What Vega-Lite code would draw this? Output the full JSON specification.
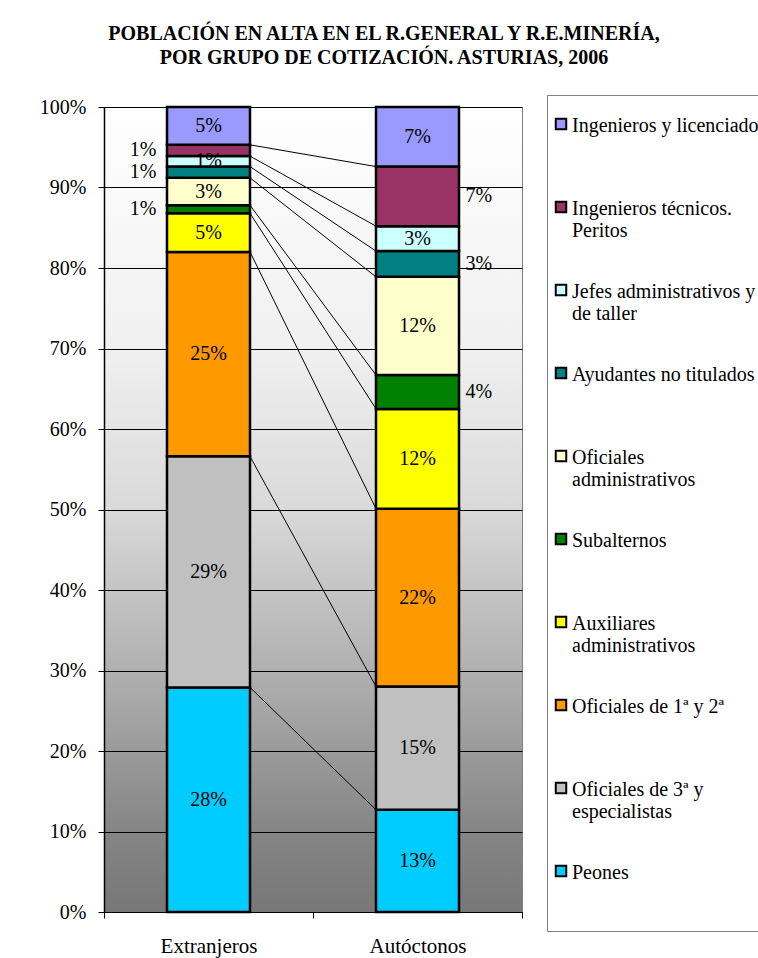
{
  "$schema": "https://vega.github.io/schema/vega-lite/v6.json",
  "autosize": "none",
  "width": 418,
  "height": 805,
  "padding": {"left": 104, "top": 107, "right": 236, "bottom": 46},
  "background": "white",
  "title": {
    "text": ["POBLACIÓN EN ALTA EN EL R.GENERAL Y R.E.MINERÍA,", "POR GRUPO DE COTIZACIÓN. ASTURIAS, 2006"],
    "font": "Liberation Serif",
    "fontSize": 20,
    "fontWeight": "bold",
    "lineHeight": 24,
    "color": "black",
    "anchor": "middle",
    "frame": "group",
    "dx": 71,
    "offset": 27
  },
  "data": {
    "values": [
      {"grupo": "Extranjeros", "categoria": "Peones", "orden": 1, "valor": 0.279},
      {"grupo": "Extranjeros", "categoria": "Oficiales de 3ª y especialistas", "orden": 2, "valor": 0.287},
      {"grupo": "Extranjeros", "categoria": "Oficiales de 1ª y 2ª", "orden": 3, "valor": 0.254},
      {"grupo": "Extranjeros", "categoria": "Auxiliares administrativos", "orden": 4, "valor": 0.048},
      {"grupo": "Extranjeros", "categoria": "Subalternos", "orden": 5, "valor": 0.010},
      {"grupo": "Extranjeros", "categoria": "Oficiales administrativos", "orden": 6, "valor": 0.034},
      {"grupo": "Extranjeros", "categoria": "Ayudantes no titulados", "orden": 7, "valor": 0.014},
      {"grupo": "Extranjeros", "categoria": "Jefes administrativos y de taller", "orden": 8, "valor": 0.013},
      {"grupo": "Extranjeros", "categoria": "Ingenieros técnicos. Peritos", "orden": 9, "valor": 0.014},
      {"grupo": "Extranjeros", "categoria": "Ingenieros y licenciados", "orden": 10, "valor": 0.047},
      {"grupo": "Autóctonos", "categoria": "Peones", "orden": 1, "valor": 0.127},
      {"grupo": "Autóctonos", "categoria": "Oficiales de 3ª y especialistas", "orden": 2, "valor": 0.153},
      {"grupo": "Autóctonos", "categoria": "Oficiales de 1ª y 2ª", "orden": 3, "valor": 0.221},
      {"grupo": "Autóctonos", "categoria": "Auxiliares administrativos", "orden": 4, "valor": 0.124},
      {"grupo": "Autóctonos", "categoria": "Subalternos", "orden": 5, "valor": 0.042},
      {"grupo": "Autóctonos", "categoria": "Oficiales administrativos", "orden": 6, "valor": 0.122},
      {"grupo": "Autóctonos", "categoria": "Ayudantes no titulados", "orden": 7, "valor": 0.032},
      {"grupo": "Autóctonos", "categoria": "Jefes administrativos y de taller", "orden": 8, "valor": 0.031},
      {"grupo": "Autóctonos", "categoria": "Ingenieros técnicos. Peritos", "orden": 9, "valor": 0.074},
      {"grupo": "Autóctonos", "categoria": "Ingenieros y licenciados", "orden": 10, "valor": 0.074}
    ]
  },
  "config": {
    "font": "Liberation Serif",
    "view": {
      "fill": {
        "gradient": "linear",
        "x1": 0, "y1": 0, "x2": 0, "y2": 1,
        "stops": [
          {"offset": 0, "color": "#ffffff"},
          {"offset": 0.3, "color": "#f0f0f0"},
          {"offset": 0.5, "color": "#d9d9d9"},
          {"offset": 0.7, "color": "#b0b0b0"},
          {"offset": 0.9, "color": "#858585"},
          {"offset": 1, "color": "#777777"}
        ]
      },
      "stroke": "#808080",
      "strokeWidth": 1
    },
    "legend": {
      "labelFont": "Liberation Serif",
      "titleFont": "Liberation Serif"
    },
    "axisY": {
      "domainColor": "black",
      "domainWidth": 1.5,
      "tickColor": "black",
      "tickSize": 6,
      "gridColor": "black",
      "gridWidth": 1,
      "gridOpacity": 1,
      "labelPadding": 12,
      "labelFontSize": 20,
      "labelColor": "black",
      "labelFont": "Liberation Serif"
    },
    "axisX": {
      "domainColor": "black",
      "tickColor": "black",
      "tickSize": 6,
      "labelFontSize": 21,
      "labelPadding": 17,
      "labelColor": "black",
      "labelAngle": 0,
      "labelFont": "Liberation Serif",
      "grid": false,
      "tickBand": "extent"
    }
  },
  "encoding": {
    "x": {
      "field": "grupo",
      "type": "nominal",
      "title": null,
      "scale": {"domain": ["Extranjeros", "Autóctonos"], "paddingInner": 0, "paddingOuter": 0}
    }
  },
  "layer": [
    {
      "transform": [
        {"stack": "valor", "groupby": ["grupo"], "sort": [{"field": "orden", "order": "ascending"}], "as": ["v0", "v1"]},
        {"pivot": "grupo", "value": "v1", "groupby": ["categoria"]},
        {"filter": "datum.categoria != 'Ingenieros y licenciados'"}
      ],
      "mark": {"type": "rule", "color": "black", "strokeWidth": 1, "xOffset": 41.5, "x2Offset": -41.5},
      "encoding": {
        "x": {"datum": "Extranjeros", "type": "nominal"},
        "x2": {"datum": "Autóctonos"},
        "y": {"field": "Extranjeros", "type": "quantitative"},
        "y2": {"field": "Autóctonos"}
      }
    },
    {
      "mark": {"type": "bar", "size": 83, "stroke": "black", "strokeWidth": 2.5},
      "encoding": {
        "y": {
          "field": "valor",
          "type": "quantitative",
          "stack": "zero",
          "title": null,
          "scale": {"domain": [0, 1], "nice": false},
          "axis": {"format": ".0%", "values": [0, 0.1, 0.2, 0.3, 0.4, 0.5, 0.6, 0.7, 0.8, 0.9, 1]}
        },
        "order": {"field": "orden", "type": "quantitative"},
        "color": {
          "field": "categoria",
          "type": "nominal",
          "scale": {
            "domain": ["Ingenieros y licenciados", "Ingenieros técnicos. Peritos", "Jefes administrativos y de taller", "Ayudantes no titulados", "Oficiales administrativos", "Subalternos", "Auxiliares administrativos", "Oficiales de 1ª y 2ª", "Oficiales de 3ª y especialistas", "Peones"],
            "range": ["#9999FF", "#993366", "#CCFFFF", "#008080", "#FFFFCC", "#008000", "#FFFF00", "#FF9900", "#C0C0C0", "#00CCFF"]
          },
          "legend": {
            "orient": "none",
            "legendX": 443,
            "legendY": -12,
            "title": " ",
            "titleFontSize": 10,
            "titlePadding": 5,
            "padding": 4,
            "strokeColor": "#808080",
            "fillColor": "white",
            "symbolType": "square",
            "symbolSize": 110,
            "symbolStrokeColor": "black",
            "symbolStrokeWidth": 2,
            "symbolOpacity": 1,
            "labelFont": "Liberation Serif",
            "labelFontSize": 20,
            "labelColor": "black",
            "labelLimit": 0,
            "labelOffset": 1,
            "labelBaseline": "alphabetic",
            "labelLineHeight": 23,
            "rowPadding": 39,
            "labelExpr": "datum.label == 'Ingenieros técnicos. Peritos' ? ['Ingenieros técnicos.', 'Peritos'] : datum.label == 'Jefes administrativos y de taller' ? ['Jefes administrativos y', 'de taller'] : datum.label == 'Oficiales administrativos' ? ['Oficiales', 'administrativos'] : datum.label == 'Auxiliares administrativos' ? ['Auxiliares', 'administrativos'] : datum.label == 'Oficiales de 3ª y especialistas' ? ['Oficiales de 3ª y', 'especialistas'] : datum.label == 'Peones' ? ['Peones', '', ''] : [datum.label, '']",
            "encoding": {"labels": {"dy": {"value": 8}, "font": {"value": "Liberation Serif"}}}
          }
        }
      }
    },
    {
      "mark": {"type": "text", "fontSize": 20, "font": "Liberation Serif", "color": "black", "baseline": "middle", "align": "center"},
      "encoding": {
        "y": {"field": "valor", "type": "quantitative", "stack": "zero", "bandPosition": 0.5},
        "order": {"field": "orden", "type": "quantitative"},
        "detail": {"field": "categoria", "type": "nominal"},
        "text": {
          "condition": {"test": "indexof(['Ingenieros técnicos. Peritos', 'Ayudantes no titulados', 'Subalternos'], datum.categoria) >= 0", "value": ""},
          "field": "valor", "type": "quantitative", "format": ".0%"
        }
      }
    },
    {
      "mark": {"type": "text", "fontSize": 20, "font": "Liberation Serif", "color": "black", "baseline": "middle", "align": "right", "dx": -52},
      "encoding": {
        "y": {"field": "valor", "type": "quantitative", "stack": "zero", "bandPosition": 0.5},
        "order": {"field": "orden", "type": "quantitative"},
        "detail": {"field": "categoria", "type": "nominal"},
        "text": {
          "condition": {"test": "datum.grupo != 'Extranjeros' || indexof(['Ingenieros técnicos. Peritos', 'Ayudantes no titulados', 'Subalternos'], datum.categoria) < 0", "value": ""},
          "field": "valor", "type": "quantitative", "format": ".0%"
        }
      }
    },
    {
      "mark": {"type": "text", "fontSize": 20, "font": "Liberation Serif", "color": "black", "baseline": "middle", "align": "left", "dx": 48},
      "encoding": {
        "y": {"field": "valor", "type": "quantitative", "stack": "zero", "bandPosition": 0.5},
        "order": {"field": "orden", "type": "quantitative"},
        "detail": {"field": "categoria", "type": "nominal"},
        "text": {
          "condition": {"test": "datum.grupo != 'Autóctonos' || indexof(['Ingenieros técnicos. Peritos', 'Ayudantes no titulados', 'Subalternos'], datum.categoria) < 0", "value": ""},
          "field": "valor", "type": "quantitative", "format": ".0%"
        }
      }
    }
  ]
}
